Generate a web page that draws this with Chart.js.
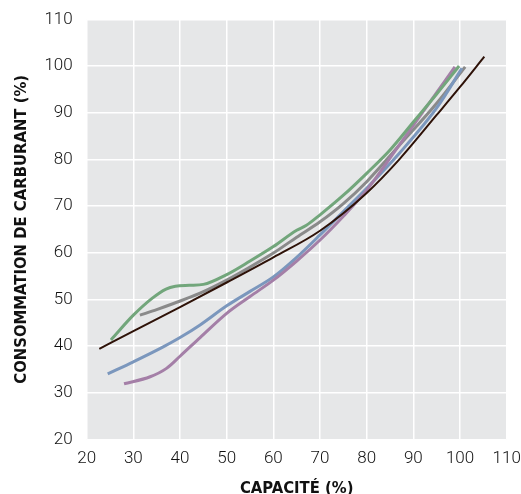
<!DOCTYPE html>
<html>
<head>
<meta charset="utf-8">
<script src="https://cdn.jsdelivr.net/npm/chart.js@4"></script>
<style>
html,body{margin:0;padding:0;background:#fff;}
#wrap{width:521px;height:494px;position:relative;}
</style>
</head>
<body>
<div id="wrap"><canvas id="c" width="521" height="494"></canvas></div>
<script>
const xLabel = "CAPACITÉ (%)";
const yLabel = "CONSOMMATION DE CARBURANT (%)";
const axisMin = 20, axisMax = 110, axisStep = 10;

const blackX = [22.7, 30, 40, 50, 60, 70, 80, 87, 95, 100, 105.2];
const blackY = [39.4, 43.2, 48.3, 53.6, 59.0, 64.7, 72.8, 80, 89.5, 95.5, 102];

const greenX = [25.2, 30, 34, 37, 39, 42, 45, 50, 55, 60, 65, 67, 70, 75, 80, 85, 90, 95, 99.8];
const greenY = [41.3, 46.6, 50.2, 52.2, 52.8, 53, 53.2, 55.3, 58.2, 61.3, 64.8, 65.8, 68.1, 72.3, 77, 82, 88, 94, 100];

const grayX = [31.4, 35, 38.6, 44.3, 50, 55, 60, 65, 70, 75, 80, 87, 95, 101.1];
const grayY = [46.6, 47.8, 49.1, 51.3, 54.1, 56.9, 59.9, 63.3, 66.6, 70.5, 75.2, 83, 92, 99.8];

const blueX = [24.5, 30, 36.4, 40, 44.3, 50, 55, 60, 65, 70, 75, 80, 87, 95, 100.4];
const blueY = [34, 36.6, 39.8, 41.8, 44.5, 48.6, 51.7, 54.8, 59, 63.8, 68.8, 73.8, 81.3, 91, 99.5];

const pinkX = [28, 33.6, 37.1, 40, 44.3, 50, 55, 60, 65, 70, 75, 80, 87, 93, 98.9];
const pinkY = [31.9, 33.4, 35.2, 37.8, 41.8, 47, 50.6, 54.1, 58.2, 62.7, 67.8, 73.4, 83.1, 91.5, 99.8];

function pts(xs, ys){ return xs.map((x,i)=>({x:x, y:ys[i]})); }
function ds(xs, ys, color, w){
  return {data: pts(xs, ys), borderColor: color, borderWidth: w, pointRadius: 0,
          fill: false, cubicInterpolationMode: 'monotone', borderCapStyle: 'butt'};
}

const bgPlugin = {
  id: 'bg',
  beforeDraw(chart){
    const a = chart.chartArea, ctx = chart.ctx;
    ctx.save(); ctx.fillStyle = '#e6e7e8';
    ctx.fillRect(a.left, a.top, a.right - a.left, a.bottom - a.top);
    ctx.restore();
  }
};

const tickFont = {family: "Roboto, 'Liberation Sans', sans-serif", size: 17, weight: 300};
const titleFont = {family: "'DejaVu Sans Condensed', 'DejaVu Sans', sans-serif", size: 16.5, weight: 'bold condensed', lineHeight: 0.7};

new Chart(document.getElementById('c'), {
  type: 'line',
  data: {
    datasets: [
      ds(blackX, blackY, '#2e1208', 2),
      ds(greenX, greenY, '#72a67b', 3),
      ds(pinkX, pinkY, '#a47fa7', 3),
      ds(blueX, blueY, '#7b97bd', 3),
      ds(grayX, grayY, '#8a8a8a', 3)
    ]
  },
  options: {
    responsive: false,
    animation: false,
    devicePixelRatio: 1,
    layout: {padding: {left: 0, right: 14.3, top: 19.3, bottom: 0}},
    plugins: {legend: {display: false}, tooltip: {enabled: false}},
    scales: {
      x: {
        type: 'linear', min: axisMin, max: axisMax,
        grid: {color: '#ffffff', lineWidth: 1.5, drawTicks: false},
        border: {display: false},
        ticks: {stepSize: axisStep, color: '#111111', font: tickFont, padding: 9, maxRotation: 0},
        title: {display: true, text: xLabel, color: '#111111', font: titleFont, padding: {top: 0, bottom: 0}},
        afterFit(s){ s.height = 54.7; s.paddingLeft = 0; s.paddingRight = 0; }
      },
      y: {
        type: 'linear', min: axisMin, max: axisMax,
        grid: {color: '#ffffff', lineWidth: 1.5, drawTicks: false},
        border: {display: false},
        ticks: {stepSize: axisStep, color: '#111111', font: tickFont, padding: 14},
        title: {display: true, text: yLabel, color: '#111111', font: titleFont, padding: {top: 16, bottom: 0}},
        afterFit(s){ s.width = 86.7; s.paddingTop = 0; s.paddingBottom = 0; }
      }
    }
  },
  plugins: [bgPlugin]
});
</script>
</body>
</html>
